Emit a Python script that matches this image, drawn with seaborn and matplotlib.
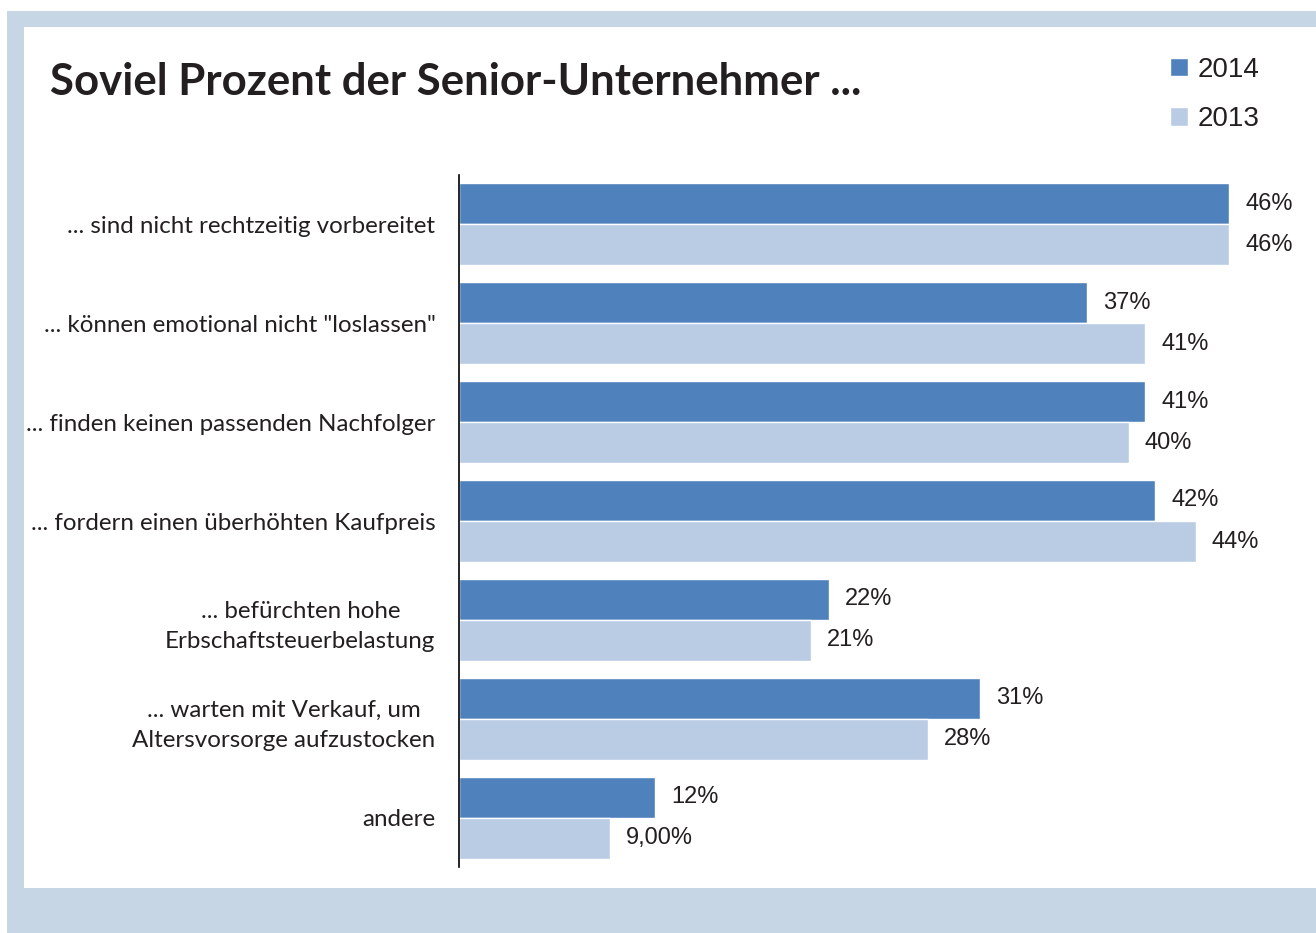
import pandas as pd
import numpy as np
import matplotlib.pyplot as plt
import seaborn as sns
from matplotlib.patches import Rectangle

# Werte
kategorien = [
    "... sind nicht rechtzeitig vorbereitet",
    "... können emotional nicht \"loslassen\"",
    "... finden keinen passenden Nachfolger",
    "... fordern einen überhöhten Kaufpreis",
    "... befürchten hohe\nErbschaftsteuerbelastung",
    "... warten mit Verkauf, um\nAltersvorsorge aufzustocken",
    "andere",
]
werte_2014 = [46, 37.5, 41, 41.6, 22.1, 31.1, 11.7]
werte_2013 = [46, 41, 40, 44, 21, 28, 9]
labels_2014 = ["46%", "37%", "41%", "42%", "22%", "31%", "12%"]
labels_2013 = ["46%", "41%", "40%", "44%", "21%", "28%", "9,00%"]
jahre = ["2014", "2013"]

df = pd.DataFrame({
    "kategorie": kategorien * 2,
    "wert": werte_2014 + werte_2013,
    "jahr": ["2014"] * len(kategorien) + ["2013"] * len(kategorien),
})

sns.set_theme(style="white")
plt.rcParams["font.family"] = ["Lato", "DejaVu Sans"]

W, H = 1316, 933
fig = plt.figure(figsize=(W / 100, H / 100), dpi=100)
fig.patch.set_facecolor("white")

# Rahmen
rahmen = "#c6d6e5"
fig.add_artist(Rectangle((7 / W, 0), 1, (H - 11) / H, transform=fig.transFigure,
                         facecolor=rahmen, edgecolor="none", zorder=0))
fig.add_artist(Rectangle((24 / W, (H - 888) / H), 1, (888 - 27) / H,
                         transform=fig.transFigure, facecolor="white",
                         edgecolor="none", zorder=0))

ax = fig.add_axes([459 / W, (H - 867) / H, 837 / W, 692 / H])
ax.set_facecolor("none")

farben = {"2014": "#4f81bd", "2013": "#b9cce4"}
sns.barplot(data=df, y="kategorie", x="wert", hue="jahr", hue_order=jahre,
            palette=farben, orient="h", width=0.83, saturation=1,
            ax=ax, legend=True)

for cont, labs in zip(ax.containers, [labels_2014, labels_2013]):
    ax.bar_label(cont, labels=labs, padding=11.5, fontsize=17,
                 family=["Liberation Sans", "DejaVu Sans"], color="#231f20")

ax.set_xlim(0, 50)
ax.set_ylim(6.5, -0.5)
ax.set_xlabel("")
ax.set_ylabel("")
ax.set_xticks([])
for s in ["top", "right", "bottom"]:
    ax.spines[s].set_visible(False)
ax.spines["left"].set_color("black")
ax.spines["left"].set_linewidth(1.2)
ax.tick_params(axis="y", length=0, pad=17, labelsize=17.4, labelcolor="#231f20")
for t in ax.get_yticklabels():
    t.set_multialignment("center")
    t.set_linespacing(1.55)

sns.move_legend(ax, "upper left", bbox_to_anchor=(1156 / W, 1 - 43 / H),
                bbox_transform=fig.transFigure, frameon=False, title=None,
                handlelength=0.65, handleheight=0.65,
                handletextpad=0.35, labelspacing=0.84, borderpad=0,
                prop={"family": ["Liberation Sans", "DejaVu Sans"], "size": 20})
for t in ax.get_legend().get_texts():
    t.set_color("#231f20")

fig.text(50 / W, 1 - 95 / H, "Soviel Prozent der Senior-Unternehmer ...",
         fontsize=31.5, fontweight="bold", color="#231f20", va="baseline", ha="left")

fig.savefig("out.png", dpi=100)
